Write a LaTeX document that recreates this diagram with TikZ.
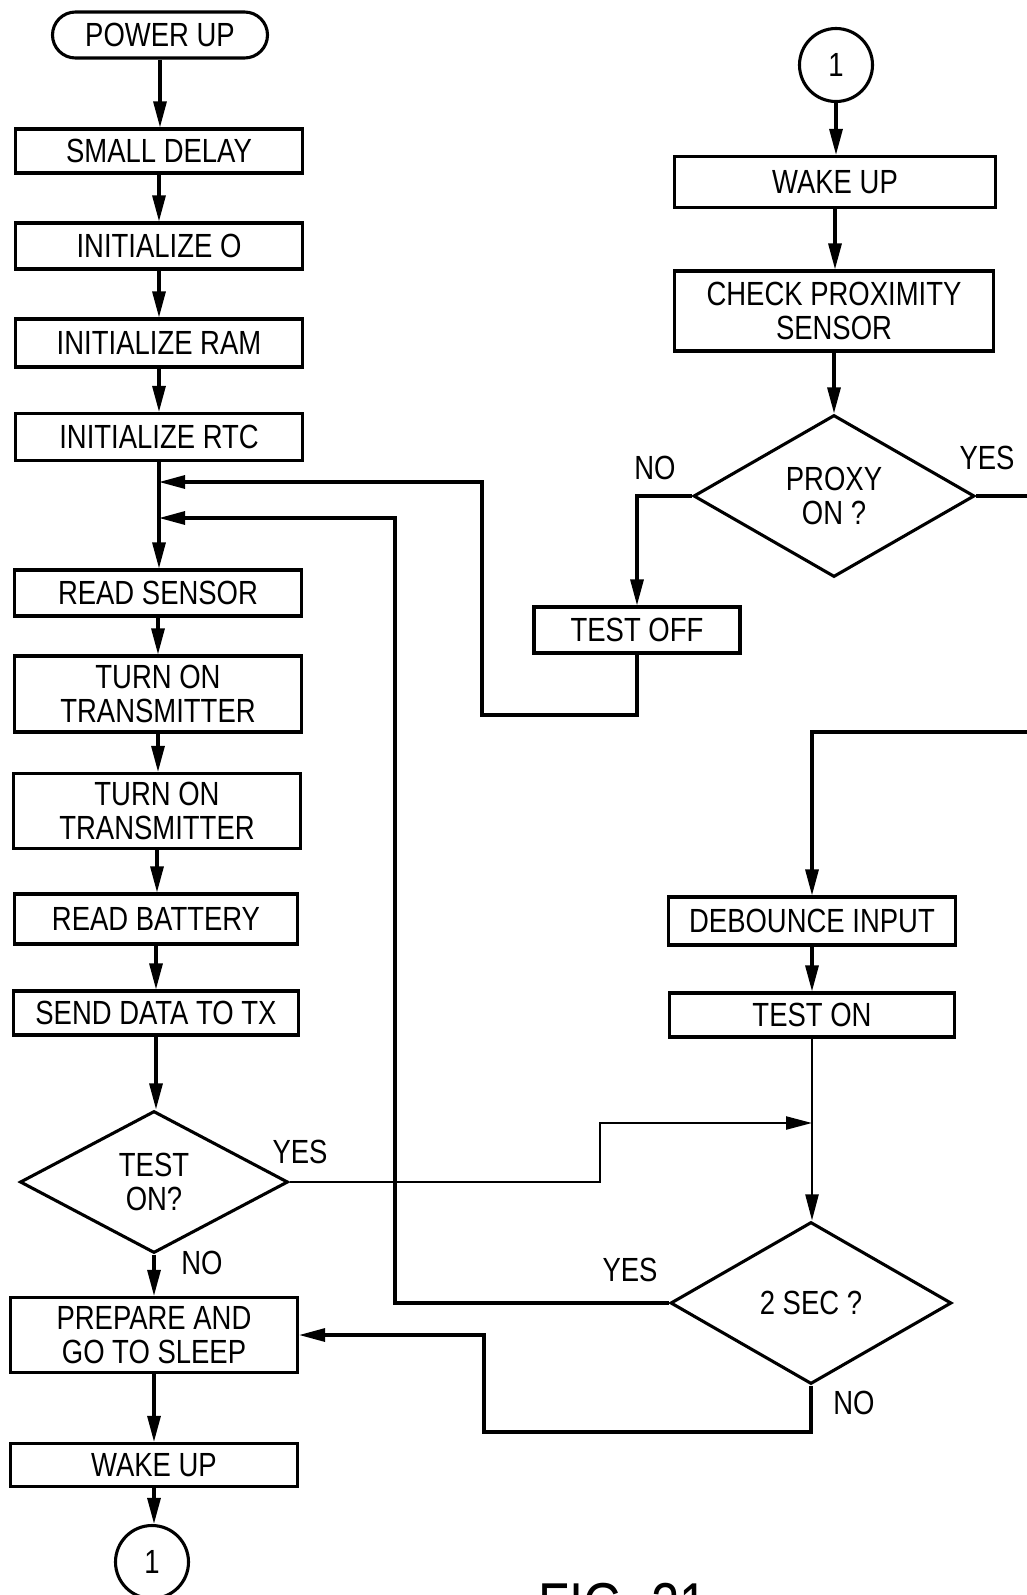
\documentclass[tikz,border=0pt]{standalone}
\usepackage{fontspec}
\setmainfont{Liberation Sans}[FakeStretch=0.82]
\usetikzlibrary{arrows.meta, shapes.geometric}

\begin{document}
\begin{tikzpicture}[
  x=1pt, y=-1pt,
  line width=3.1pt,
  font=\fontsize{33.5}{34.5}\selectfont,
  box/.style={rectangle, draw, align=center, inner sep=0pt,
              minimum width=287pt, minimum height=46pt},
  term/.style={rectangle, rounded corners=23pt, draw, inner sep=0pt,
               minimum width=215pt, minimum height=46pt},
  dec/.style={diamond, draw, align=center, inner sep=0pt,
              minimum width=281pt, minimum height=162pt},
  conn/.style={circle, draw, inner sep=0pt, minimum size=73pt},
  lbl/.style={inner sep=0pt},
  fl/.style={-{Triangle[length=26pt,width=13pt]}},
  thin/.style={line width=2.3pt},
]
\useasboundingbox (0,0) rectangle (1027,1595);
% --- left column: power up sequence ---
\node[term] (pw) at (160,35) {POWER UP};
\node[box, minimum height=44pt] (dly) at (159,151) {SMALL DELAY};
\node[box] (io) at (159,246) {INITIALIZE O};
\node[box, minimum height=48pt] (iram) at (159,343) {INITIALIZE RAM};
\node[box, minimum height=47pt] (irtc) at (159,437) {INITIALIZE RTC};
\node[box] (rs) at (158,593) {READ SENSOR};
\node[box, minimum height=76pt] (tx1) at (158,694) {TURN ON\\TRANSMITTER};
\node[box, minimum height=75pt] (tx2) at (157,811) {TURN ON\\TRANSMITTER};
\node[box, minimum width=283pt, minimum height=50pt] (bat) at (156,919) {READ BATTERY};
\node[box, minimum width=285pt, minimum height=44pt] (snd) at (156,1013) {SEND DATA TO TX};
\node[dec, minimum width=268pt, minimum height=142pt] (ton) at (154,1182) {TEST\\ON?};
\node[box, minimum height=75pt] (slp) at (154,1335) {PREPARE AND\\GO TO SLEEP};
\node[box, minimum height=43pt] (wk) at (154,1465) {WAKE UP};
\node[conn] (c1) at (152,1562) {1};
\foreach \a/\b in {pw/dly, dly/io, io/iram, iram/irtc, irtc/rs, rs/tx1, tx1/tx2,
                   tx2/bat, bat/snd, snd/ton, ton/slp, slp/wk, wk/c1}
  \draw[fl] (\a) -- (\a |- \b.north);
\coordinate (j1) at (159,482);
\coordinate (j2) at (159,518);
% --- right column: wake up / proximity ---
\node[conn] (c2) at (836,65) {1};
\node[box, minimum width=321pt, minimum height=51pt] (wk2) at (835,182) {WAKE UP};
\node[box, minimum width=319pt, minimum height=80pt] (chk) at (834,311) {CHECK PROXIMITY\\SENSOR};
\node[dec] (prx) at (834,496) {PROXY\\ON ?};
\node[box, minimum width=206pt] (toff) at (637,630) {TEST OFF};
\draw[fl] (c2) -- (c2 |- wk2.north);
\draw[fl] (wk2) -- (wk2 |- chk.north);
\draw[fl] (chk) -- (chk |- prx.north);
\draw[fl] (prx.west) -| (toff.north);
\draw[fl] (toff.south) |- (482,715) |- (j1);
\coordinate (ey1) at (1027,496);
\draw (prx.east) -- (ey1);
\node[lbl] (n1) at (655,468) {NO};
\node[lbl] (y1) at (987,458) {YES};
% --- right column: debounce ---
\node[box, minimum height=48pt] (deb) at (812,921) {DEBOUNCE INPUT};
\node[box, minimum width=285pt, minimum height=44pt] (tst) at (812,1015) {TEST ON};
\node[dec] (sec) at (811,1303) {2 SEC ?};
\coordinate (ey2) at (1027,732);
\coordinate (j3) at (812,1123);
\draw[fl] (ey2) -| (deb.north);
\draw[fl] (deb) -- (deb |- tst.north);
\draw[fl, thin] (tst) -- (tst |- sec.north);
\draw[fl, thin] (ton.east) -| (600,1123) -- (j3);
\draw[fl] (sec.west) -| (395,700) |- (j2);
\draw[fl] (sec.south) |- (484,1432) |- (slp.east);
\node[lbl] (y2) at (300,1152) {YES};
\node[lbl] (n2) at (202,1263) {NO};
\node[lbl] (y3) at (630,1270) {YES};
\node[lbl] (n3) at (854,1403) {NO};
% caption, cut by the page edge
\node[lbl, anchor=north west, font=\fontsize{62}{62}\selectfont] (fig) at (537,1582) {FIG. 21};
\end{tikzpicture}
\end{document}
